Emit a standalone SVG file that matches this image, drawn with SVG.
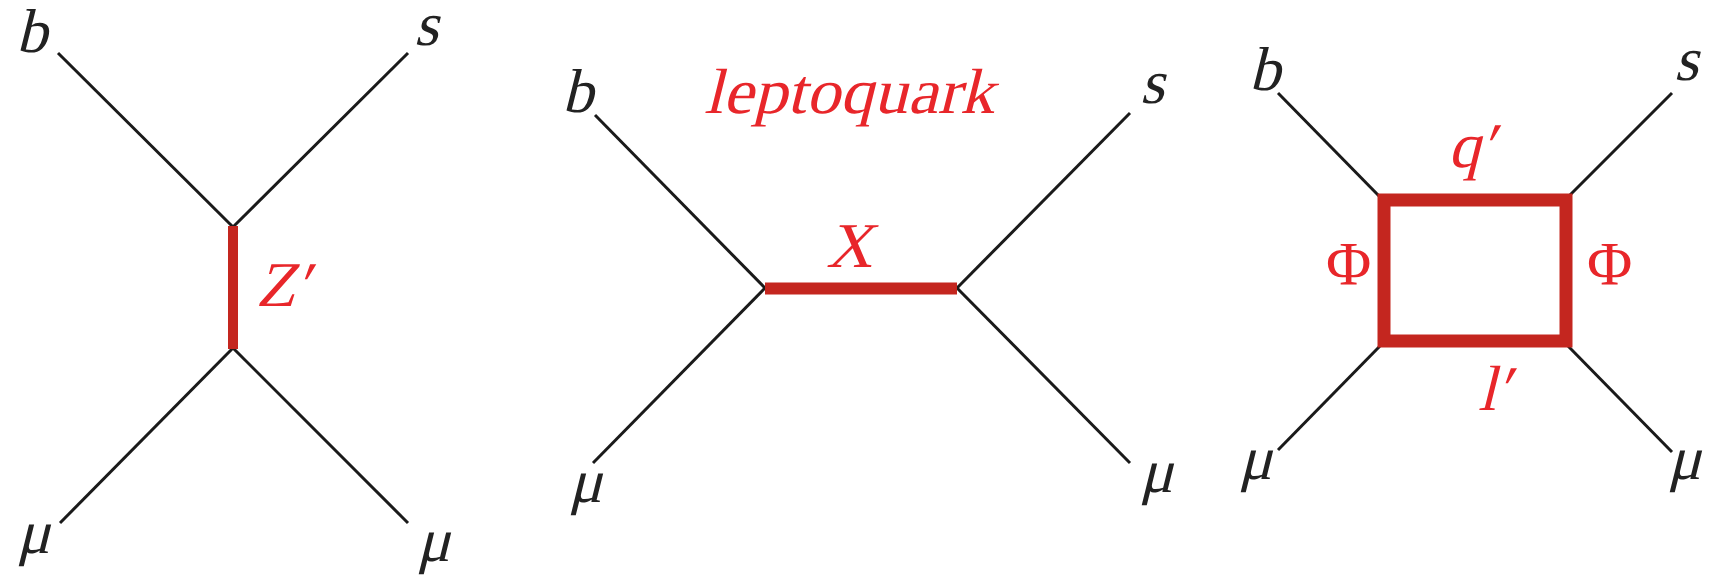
<svg xmlns="http://www.w3.org/2000/svg" width="1711" height="581" viewBox="0 0 1711 581">
<style>
.f{stroke:#1a1a1a;stroke-width:3;fill:none;stroke-linecap:butt}
.x{stroke:#c4261f;fill:none}
.lb{font-family:"Liberation Serif",serif;font-size:62px;fill:#222}
.rl{font-family:"Liberation Serif",serif;font-size:64px;fill:#e8262a}
.ru{font-family:"Liberation Serif",serif;font-size:62px;fill:#e8262a}
</style>
<rect width="1711" height="581" fill="#fff"/>
<g id="connectors">
<line class="f" x1="58" y1="53" x2="233" y2="227"/>
<line class="f" x1="408" y1="53" x2="233" y2="227"/>
<line class="f" x1="60" y1="523" x2="233" y2="348"/>
<line class="f" x1="408" y1="523" x2="233" y2="348"/>
<line class="x" x1="233" y1="226" x2="233" y2="349" stroke-width="10"/>
<line class="f" x1="595" y1="115" x2="765" y2="288"/>
<line class="f" x1="1130" y1="113" x2="957" y2="288"/>
<line class="f" x1="593" y1="463" x2="765" y2="288"/>
<line class="f" x1="1130" y1="463" x2="957" y2="288"/>
<line class="x" x1="765" y1="288.5" x2="957" y2="288.5" stroke-width="12"/>
<line class="f" x1="1278" y1="93" x2="1380" y2="197"/>
<line class="f" x1="1672" y1="93" x2="1568" y2="197"/>
<line class="f" x1="1278" y1="450" x2="1380" y2="346"/>
<line class="f" x1="1672" y1="452" x2="1568" y2="346"/>
<rect class="x" x="1384" y="200" width="182" height="141" stroke-width="13"/>
</g>
<g id="labels1">
<text class="lb" transform="translate(16,52) skewX(-14)">b</text>
<text class="lb" transform="translate(414,45) skewX(-14)">s</text>
<text class="lb" transform="translate(17,553) skewX(-14)">μ</text>
<text class="lb" transform="translate(417,561) skewX(-14)">μ</text>
<text class="rl" transform="translate(256,306) skewX(-14)">Z′</text>
</g>
<g id="labels2">
<text class="lb" transform="translate(562,112) skewX(-14)">b</text>
<text class="lb" transform="translate(1140,103) skewX(-14)">s</text>
<text class="lb" transform="translate(569,502) skewX(-14)">μ</text>
<text class="lb" transform="translate(1140,492) skewX(-14)">μ</text>
<text class="rl" transform="translate(704,113) skewX(-14)" textLength="290" lengthAdjust="spacingAndGlyphs">leptoquark</text>
<text class="rl" transform="translate(826,267) skewX(-14)">X</text>
</g>
<g id="labels3">
<text class="lb" transform="translate(1249,90) skewX(-14)">b</text>
<text class="lb" transform="translate(1674,80) skewX(-14)">s</text>
<text class="lb" transform="translate(1239,479) skewX(-14)">μ</text>
<text class="lb" transform="translate(1668,479) skewX(-14)">μ</text>
<text class="rl" transform="translate(1448,167) skewX(-14)">q′</text>
<text class="ru" x="1326" y="284">Φ</text>
<text class="ru" x="1587" y="284">Φ</text>
<text class="rl" transform="translate(1478,410) skewX(-14)">l′</text>
</g>
</svg>
